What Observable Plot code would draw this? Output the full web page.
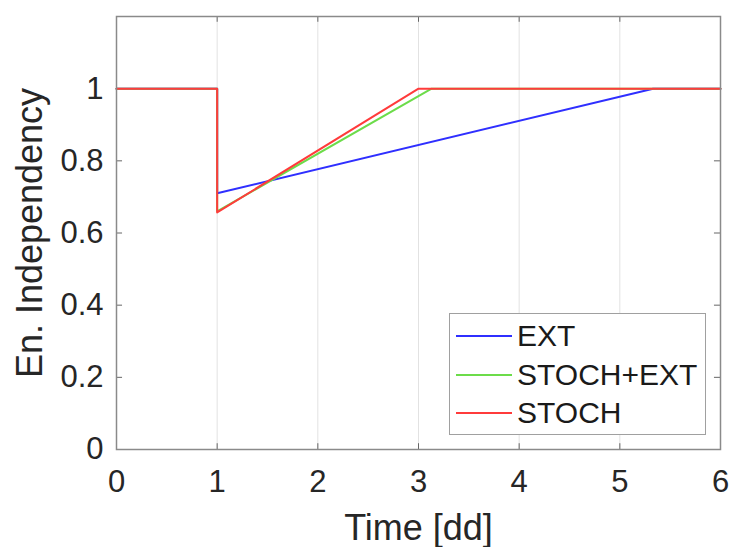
<!DOCTYPE html>
<html>
<head>
<meta charset="utf-8">
<script src="https://cdn.jsdelivr.net/npm/d3@7"></script>
<script src="https://cdn.jsdelivr.net/npm/@observablehq/plot@0.6"></script>
<style>
  html, body { margin: 0; padding: 0; background: #fff; }
  #wrap { position: relative; width: 729px; height: 547px; font-family: "Liberation Sans", Arial, sans-serif; }
  #legend { position: absolute; left: 449px; top: 313px; width: 257px; height: 122px; border: 1px solid #a0a0a0; background: #fff; box-sizing: border-box; }
  .item { position: absolute; left: 6px; height: 38px; display: flex; align-items: center; font-size: 30px; color: #1a1a1a; white-space: nowrap; }
  .item span.sw { display: inline-block; width: 56px; height: 2px; margin-right: 5px; }
</style>
</head>
<body>
<div id="wrap"></div>
<script>
const seriesNames = ["EXT", "STOCH+EXT", "STOCH"];
const seriesColors = ["#2f2fff", "#6cdc4a", "#ff3b3b"];
const extTime = [0, 1, 1, 5.33, 6];
const extValue = [1, 1, 0.71, 1, 1];
const stochExtTime = [0, 1, 1, 3.13, 6];
const stochExtValue = [1, 1, 0.66, 1, 1];
const stochTime = [0, 1, 1, 3.0, 6];
const stochValue = [1, 1, 0.657, 1, 1];
const xTicks = [0, 1, 2, 3, 4, 5, 6];
const yTicks = [0, 0.2, 0.4, 0.6, 0.8, 1];

const toRows = (t, v, s) => t.map((x, i) => ({time: x, value: v[i], series: s}));
const rows = [
  ...toRows(extTime, extValue, seriesNames[0]),
  ...toRows(stochExtTime, stochExtValue, seriesNames[1]),
  ...toRows(stochTime, stochValue, seriesNames[2])
];

const textColor = "#262626";
const chart = Plot.plot({
  width: 729,
  height: 547,
  marginLeft: 116,
  marginRight: 9,
  marginTop: 16,
  marginBottom: 98,
  style: {fontFamily: "Liberation Sans, Arial, sans-serif", background: "#fff", color: textColor},
  x: {domain: [0, 6]},
  y: {domain: [0, 1.2]},
  color: {domain: seriesNames, range: seriesColors},
  marks: [
    Plot.gridX(xTicks, {stroke: "#e2e2e2", strokeOpacity: 1, strokeWidth: 1}),
    Plot.axisX(xTicks, {tickSize: 0, tickPadding: 20, fontSize: 31, fill: textColor, label: null, tickFormat: d => String(d)}),
    Plot.axisY(yTicks, {tickSize: 0, tickPadding: 13, fontSize: 31, fill: textColor, label: null, tickFormat: d => String(d)}),
    Plot.ruleX(xTicks, {x: d => d, y1: 0, y2: 0.016, stroke: "#666"}),
    Plot.ruleX(xTicks, {x: d => d, y1: 1.2, y2: 1.184, stroke: "#666"}),
    Plot.ruleY(yTicks, {y: d => d, x1: 0, x2: 0.06, stroke: "#666"}),
    Plot.ruleY(yTicks, {y: d => d, x1: 6, x2: 5.94, stroke: "#666"}),
    Plot.line(rows, {x: "time", y: "value", z: "series", stroke: "series", strokeWidth: 2}),
    Plot.frame({stroke: "#8a8a8a", strokeWidth: 1.5}),
    Plot.text(["Time [dd]"], {frameAnchor: "bottom", dy: 90, fontSize: 36, fill: textColor}),
    Plot.text(["En. Independency"], {frameAnchor: "left", dx: -86, rotate: -90, textAnchor: "middle", fontSize: 36, fill: textColor})
  ]
});
const wrap = document.getElementById("wrap");
wrap.appendChild(chart);

const legend = document.createElement("div");
legend.id = "legend";
seriesNames.forEach((n, i) => {
  const it = document.createElement("div");
  it.className = "item";
  it.style.top = (3 + i * 38.5) + "px";
  it.innerHTML = `<span class="sw" style="background:${seriesColors[i]}"></span>${n}`;
  legend.appendChild(it);
});
wrap.appendChild(legend);
</script>
</body>
</html>
